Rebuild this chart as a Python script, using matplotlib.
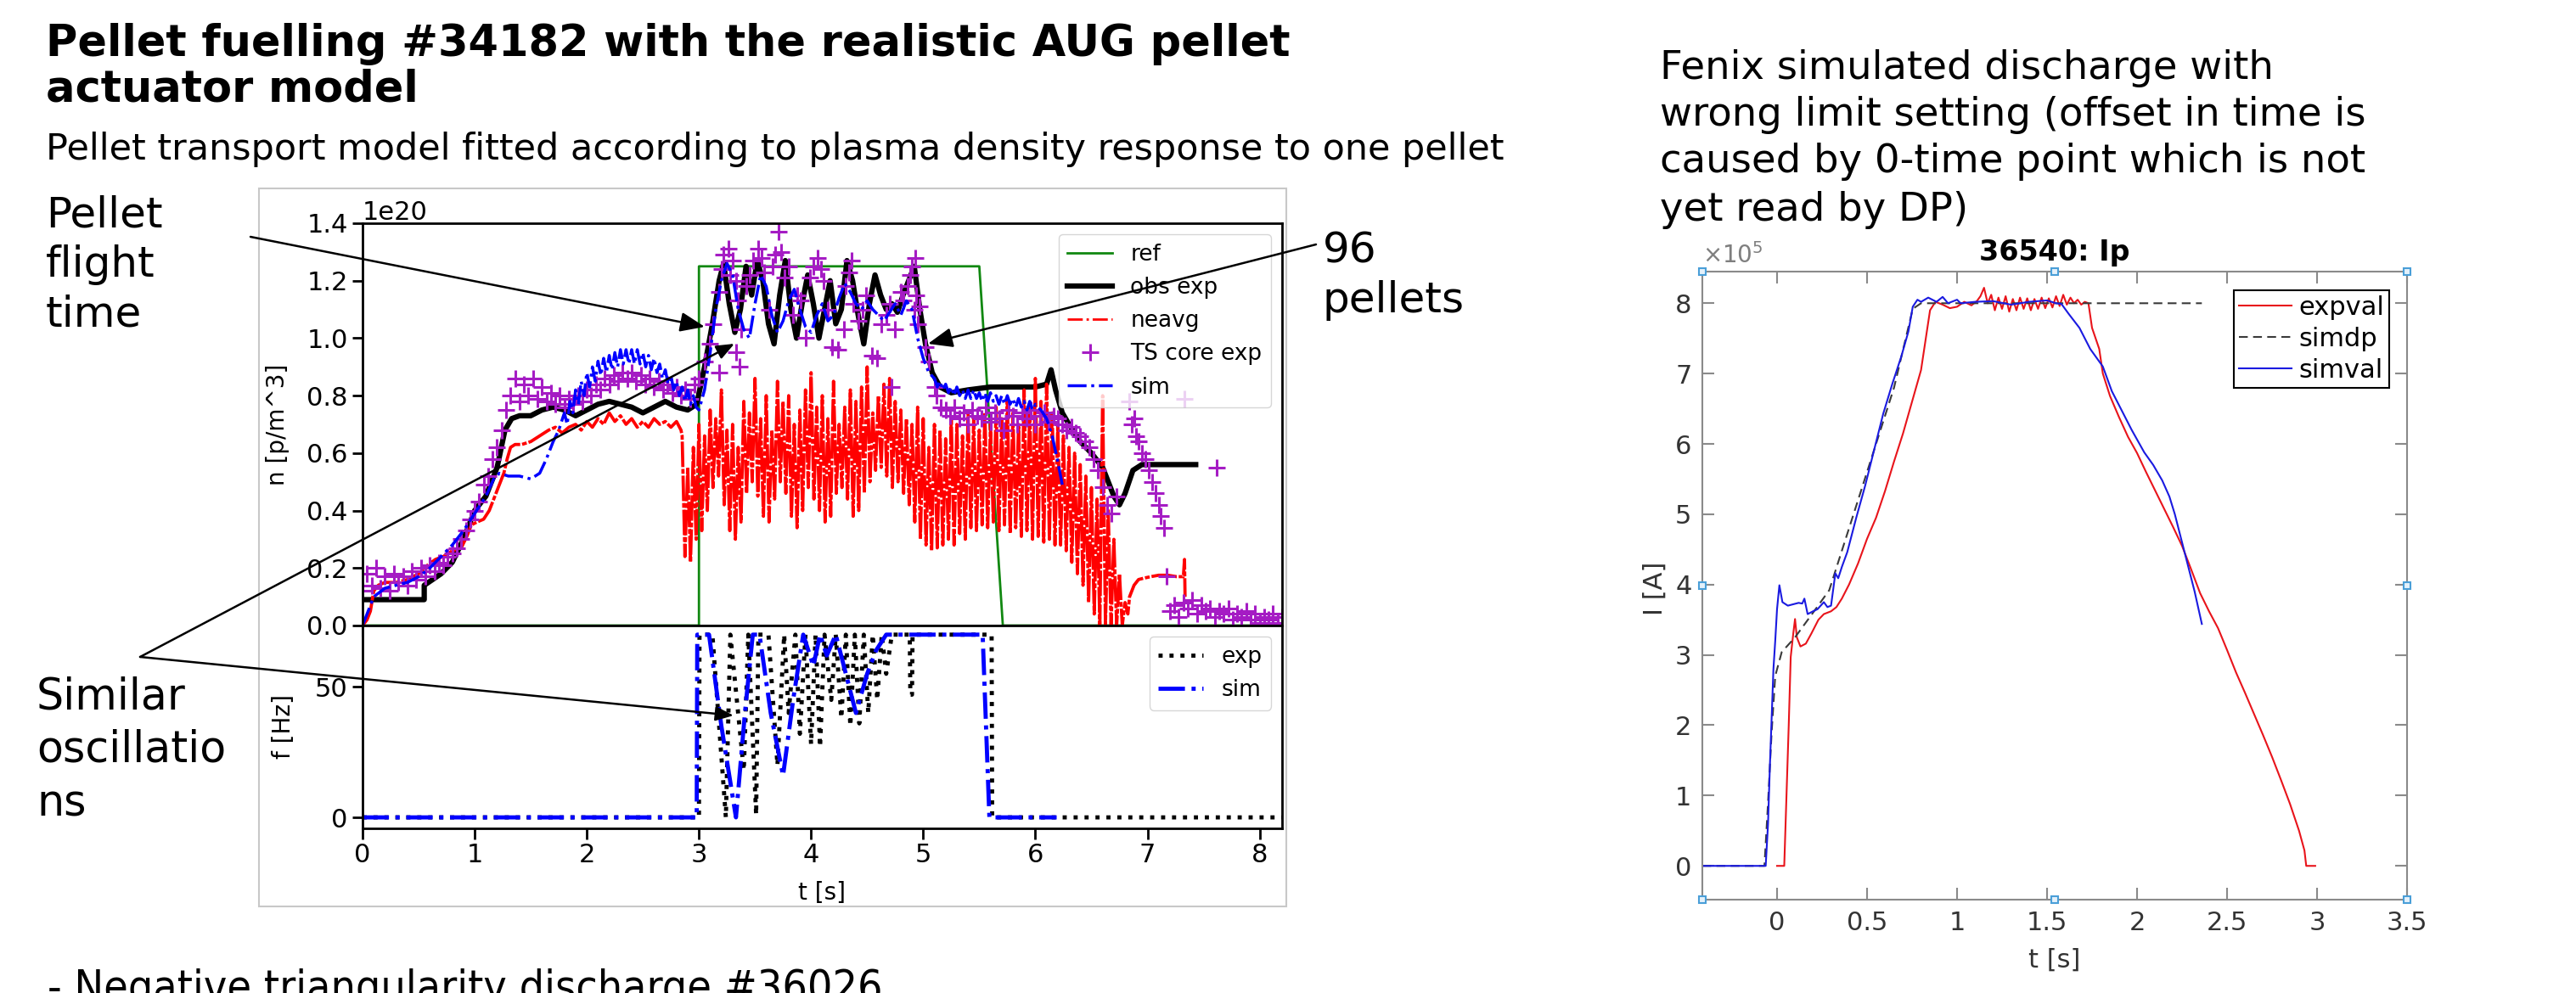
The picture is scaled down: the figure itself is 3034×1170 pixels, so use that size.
import numpy as np
import matplotlib
matplotlib.use("Agg")
import matplotlib.pyplot as plt
from matplotlib.patches import FancyArrowPatch, Rectangle
from matplotlib import font_manager as fm

plt.rcParams['font.family'] = ['DejaVu Sans']
plt.rcParams['mathtext.fontset'] = 'dejavusans'

# ---------------------------------------------------------------- data (left, density)
SC = 1e20
ref_t = [0.0, 3.0, 3.0, 5.5, 5.71, 8.2]
ref_n = [0.0, 0.0, 1.25, 1.25, 0.0, 0.0]

obs_t = [0.00, 0.55, 0.55, 0.70, 0.80, 0.90, 1.00, 1.10, 1.20, 1.27,
         1.33, 1.40, 1.50, 1.60, 1.70, 1.80, 1.90, 2.00, 2.10, 2.20,
         2.30, 2.40, 2.50, 2.60, 2.70, 2.80, 2.90, 2.98, 3.05, 3.12,
         3.18, 3.22, 3.27, 3.32, 3.37, 3.42, 3.47, 3.52, 3.57, 3.62,
         3.67, 3.72, 3.77, 3.82, 3.87, 3.92, 3.97, 4.02, 4.07, 4.12,
         4.17, 4.22, 4.27, 4.32, 4.37, 4.42, 4.47, 4.52, 4.57, 4.62,
         4.67, 4.72, 4.77, 4.82, 4.87, 4.92, 4.97, 5.02, 5.08, 5.15,
         5.25, 5.40, 5.60, 5.80, 6.00, 6.10, 6.14, 6.18, 6.24, 6.30,
         6.40, 6.50, 6.60, 6.70, 6.75, 6.80, 6.87, 6.95, 7.00, 7.43]
obs_n = [0.09, 0.09, 0.14, 0.18, 0.22, 0.30, 0.40, 0.45, 0.55, 0.68,
         0.72, 0.73, 0.73, 0.75, 0.76, 0.75, 0.73, 0.75, 0.77, 0.78,
         0.77, 0.76, 0.74, 0.76, 0.78, 0.76, 0.75, 0.77, 0.90, 1.05,
         1.20, 1.26, 1.12, 1.02, 1.10, 1.25, 1.15, 1.27, 1.20, 1.05,
         0.98, 1.15, 1.27, 1.10, 1.00, 1.12, 1.22, 1.12, 1.00, 1.10,
         1.20, 1.05, 1.10, 1.27, 1.20, 1.08, 0.98, 1.12, 1.22, 1.15,
         1.10, 1.12, 1.09, 1.15, 1.20, 1.25, 1.10, 0.98, 0.88, 0.83,
         0.81, 0.82, 0.83, 0.83, 0.83, 0.84, 0.89, 0.82, 0.74, 0.70,
         0.64, 0.60, 0.55, 0.45, 0.42, 0.46, 0.54, 0.56, 0.56, 0.56]

# neavg: before pellets
nea_pre_t = [0.00, 0.04, 0.07, 0.10, 0.14, 0.20, 0.30, 0.40, 0.50, 0.58,
             0.65, 0.72, 0.80, 0.88, 0.93, 0.97, 1.02, 1.08, 1.13, 1.18,
             1.22, 1.26, 1.29, 1.32, 1.36, 1.42, 1.50, 1.58, 1.66, 1.72,
             1.78, 1.84, 1.90, 1.95, 2.00, 2.05, 2.10, 2.15, 2.20, 2.25,
             2.30, 2.35, 2.40, 2.45, 2.50, 2.55, 2.60, 2.65, 2.70, 2.75,
             2.80, 2.84]
nea_pre_n = [0.00, 0.02, 0.05, 0.12, 0.14, 0.15, 0.15, 0.16, 0.18, 0.21,
             0.23, 0.24, 0.26, 0.27, 0.31, 0.35, 0.36, 0.37, 0.40, 0.45,
             0.49, 0.53, 0.58, 0.62, 0.63, 0.63, 0.64, 0.66, 0.68, 0.69,
             0.67, 0.69, 0.70, 0.68, 0.71, 0.69, 0.72, 0.70, 0.74, 0.71,
             0.73, 0.70, 0.72, 0.69, 0.71, 0.69, 0.72, 0.70, 0.71, 0.69,
             0.71, 0.68]
# neavg during pellet train: sampled every 0.05 s from 2.85 s, upper and lower swings
nea_band_start, nea_band_step = 2.85, 0.05
nea_hi = [0.66, 0.55, 0.62, 0.70, 0.66, 0.75, 0.72, 0.82, 0.68, 0.70,
          0.62, 0.78, 0.74, 0.86, 0.72, 0.80, 0.68, 0.85, 0.78, 0.80,
          0.70, 0.75, 0.82, 0.88, 0.76, 0.80, 0.72, 0.85, 0.70, 0.76,
          0.82, 0.78, 0.83, 0.90, 0.74, 0.80, 0.84, 0.86, 0.78, 0.75,
          0.72, 0.70, 0.76, 0.72, 0.62, 0.70, 0.68, 0.65, 0.72, 0.70,
          0.66, 0.74, 0.72, 0.68, 0.74, 0.70, 0.76, 0.72, 0.78, 0.74,
          0.70, 0.82, 0.76, 0.86, 0.78, 0.84, 0.74, 0.70, 0.66, 0.62,
          0.60, 0.56, 0.52, 0.48, 0.44, 0.80, 0.40, 0.30, 0.18, 0.08]
nea_lo = [0.24, 0.22, 0.30, 0.33, 0.40, 0.48, 0.52, 0.42, 0.33, 0.30,
          0.36, 0.46, 0.50, 0.45, 0.38, 0.36, 0.44, 0.50, 0.46, 0.38,
          0.34, 0.40, 0.48, 0.44, 0.40, 0.36, 0.38, 0.46, 0.48, 0.44,
          0.38, 0.40, 0.46, 0.50, 0.54, 0.55, 0.52, 0.48, 0.50, 0.46,
          0.42, 0.36, 0.30, 0.28, 0.26, 0.27, 0.28, 0.30, 0.28, 0.32,
          0.30, 0.34, 0.33, 0.35, 0.34, 0.36, 0.33, 0.35, 0.32, 0.34,
          0.31, 0.33, 0.30, 0.31, 0.29, 0.30, 0.28, 0.28, 0.26, 0.22,
          0.18, 0.14, 0.08, 0.04, 0.00, 0.00, 0.00, 0.00, 0.00, 0.04]
nea_post_t = [6.84, 6.88, 6.92, 6.97, 7.03, 7.10, 7.18, 7.26, 7.32, 7.33, 7.335]
nea_post_n = [0.10, 0.14, 0.16, 0.165, 0.17, 0.175, 0.175, 0.17, 0.17, 0.23, 0.10]

# Thomson scattering core density
ts_pre_n = [0.12, 0.18, 0.14, 0.20, 0.13, 0.17, 0.12, 0.18, 0.15, 0.17,
            0.14, 0.19, 0.16, 0.20, 0.17, 0.21, 0.19, 0.22, 0.21, 0.24,
            0.25, 0.27, 0.30, 0.33, 0.37, 0.40, 0.43, 0.49, 0.52, 0.58,
            0.62, 0.68, 0.75, 0.80, 0.86, 0.78, 0.84, 0.80, 0.86, 0.79,
            0.83, 0.78, 0.81, 0.77, 0.80, 0.76, 0.79, 0.77, 0.80, 0.78,
            0.82, 0.80, 0.84, 0.82, 0.86, 0.84, 0.87, 0.85, 0.88, 0.86,
            0.88, 0.85, 0.87, 0.84, 0.86, 0.83, 0.85, 0.82, 0.84, 0.81,
            0.83, 0.80, 0.82, 0.79, 0.84, 0.86]
ts_mid_t = [3.05, 3.10, 3.13, 3.18, 3.18, 3.22, 3.26, 3.30, 3.33, 3.33,
            3.35, 3.36, 3.38, 3.42, 3.48, 3.53, 3.58, 3.63, 3.68, 3.71,
            3.76, 3.80, 3.84, 3.91, 3.95, 3.99, 4.06, 4.11, 4.15, 4.19,
            4.24, 4.29, 4.34, 4.38, 4.42, 4.49, 4.54, 4.59, 4.63, 4.67,
            4.72, 4.75, 4.82, 4.86, 4.90, 4.92, 4.95, 4.97, 5.02, 5.05,
            5.10, 3.20, 3.28, 3.45, 3.56, 3.66, 3.73, 3.88, 4.02, 4.09,
            4.31, 4.36, 4.46, 4.70, 4.80, 4.88, 4.93, 4.94]
ts_mid_n = [0.92, 0.98, 1.05, 1.16, 0.88, 1.29, 1.31, 1.27, 1.20, 0.95,
            1.13, 0.90, 1.03, 1.18, 1.27, 1.31, 1.23, 1.10, 1.29, 1.37,
            1.21, 1.25, 1.08, 1.13, 1.00, 1.21, 1.28, 1.20, 1.10, 0.97,
            0.96, 1.03, 1.23, 1.12, 1.06, 1.15, 0.94, 0.93, 1.05, 1.08,
            0.83, 1.03, 1.13, 1.18, 1.25, 1.10, 1.05, 1.11, 0.97, 0.92,
            0.83, 1.24, 1.22, 1.22, 1.28, 1.25, 1.30, 1.15, 1.25, 1.24,
            1.18, 1.27, 1.10, 1.12, 1.16, 1.22, 1.28, 1.15]
ts_post_n = [0.80, 0.76, 0.75, 0.73, 0.76, 0.72, 0.74, 0.70, 0.75, 0.73,
             0.72, 0.76, 0.71, 0.74, 0.72, 0.68, 0.75, 0.73, 0.70, 0.74,
             0.72, 0.75, 0.70, 0.73, 0.74, 0.71, 0.73, 0.72, 0.70, 0.68,
             0.69, 0.67, 0.66, 0.64, 0.62, 0.58, 0.54, 0.48, 0.42, 0.39,
             0.45]
ts_late_t = [6.84, 6.86, 6.88, 6.90, 6.92, 6.95, 6.98, 7.01, 7.04, 7.07,
             7.10, 7.12, 7.15, 7.17, 7.33, 7.62]
ts_late_n = [0.78, 0.70, 0.72, 0.66, 0.64, 0.60, 0.58, 0.54, 0.50, 0.46,
             0.42, 0.38, 0.34, 0.17, 0.79, 0.55]
ts_end_n = [0.05, 0.07, 0.03, 0.08, 0.06, 0.09, 0.04, 0.07, 0.05, 0.06,
            0.03, 0.05, 0.04, 0.06, 0.02, 0.04, 0.03, 0.05, 0.02, 0.04,
            0.01, 0.03, 0.02, 0.04, 0.01, 0.03]

sim_t = [0.00, 0.05, 0.10, 0.20, 0.30, 0.40, 0.50, 0.60, 0.70, 0.80,
         0.90, 1.00, 1.10, 1.17, 1.22, 1.30, 1.40, 1.50, 1.58, 1.64,
         1.70, 1.75, 1.80, 1.825, 1.85, 1.875, 1.90, 1.925, 1.95, 1.975,
         2.00, 2.025, 2.05, 2.075, 2.10, 2.125, 2.15, 2.175, 2.20, 2.225,
         2.25, 2.275, 2.30, 2.325, 2.35, 2.375, 2.40, 2.425, 2.45, 2.475,
         2.50, 2.525, 2.55, 2.575, 2.60, 2.625, 2.65, 2.675, 2.70, 2.725,
         2.75, 2.775, 2.80, 2.825, 2.85, 2.875, 2.90, 2.925, 2.95, 2.975,
         3.00, 3.05, 3.10, 3.15, 3.20, 3.25, 3.30, 3.35, 3.40, 3.45,
         3.50, 3.55, 3.60, 3.65, 3.70, 3.75, 3.80, 3.85, 3.90, 3.95,
         4.00, 4.05, 4.10, 4.15, 4.20, 4.25, 4.30, 4.35, 4.40, 4.45,
         4.50, 4.55, 4.60, 4.65, 4.70, 4.75, 4.80, 4.85, 4.90, 4.95,
         5.00, 5.05, 5.10, 5.125, 5.15, 5.175, 5.20, 5.225, 5.25, 5.275,
         5.30, 5.325, 5.35, 5.375, 5.40, 5.425, 5.45, 5.475, 5.50, 5.525,
         5.55, 5.575, 5.60, 5.625, 5.65, 5.675, 5.70, 5.725, 5.75, 5.775,
         5.80, 5.825, 5.85, 5.875, 5.90, 5.925, 5.95, 5.975, 6.00, 6.05,
         6.10, 6.15, 6.20, 6.24]
sim_n = [0.00, 0.05, 0.10, 0.13, 0.14, 0.15, 0.17, 0.20, 0.24, 0.28,
         0.33, 0.39, 0.45, 0.51, 0.53, 0.52, 0.52, 0.51, 0.53, 0.58,
         0.64, 0.68, 0.74, 0.70, 0.78, 0.74, 0.82, 0.77, 0.85, 0.80,
         0.88, 0.83, 0.90, 0.85, 0.92, 0.87, 0.93, 0.88, 0.94, 0.89,
         0.95, 0.90, 0.96, 0.91, 0.96, 0.91, 0.96, 0.91, 0.96, 0.91,
         0.95, 0.90, 0.94, 0.89, 0.93, 0.88, 0.91, 0.86, 0.89, 0.84,
         0.87, 0.82, 0.85, 0.80, 0.83, 0.78, 0.82, 0.77, 0.80, 0.76,
         0.75, 0.82, 0.95, 1.10, 1.20, 1.26, 1.22, 1.10, 1.03, 1.00,
         1.12, 1.22, 1.18, 1.08, 1.02, 1.06, 1.13, 1.17, 1.10, 1.04,
         1.02, 1.08, 1.12, 1.06, 1.08, 1.14, 1.19, 1.16, 1.12, 1.10,
         1.13, 1.10, 1.08, 1.06, 1.09, 1.12, 1.08, 1.13, 1.10, 1.00,
         0.93, 0.88, 0.86, 0.83, 0.85, 0.82, 0.84, 0.81, 0.83, 0.80,
         0.83, 0.80, 0.82, 0.79, 0.82, 0.79, 0.82, 0.79, 0.81, 0.78,
         0.81, 0.78, 0.81, 0.78, 0.80, 0.77, 0.80, 0.77, 0.80, 0.77,
         0.79, 0.76, 0.79, 0.76, 0.78, 0.75, 0.78, 0.75, 0.77, 0.75,
         0.72, 0.66, 0.57, 0.49]

# ---------------------------------------------------------------- data (left, pellet frequency)
fexp_t = [0.00, 3.00, 3.005, 3.12, 3.24, 3.28, 3.40, 3.44, 3.51, 3.53,
          3.62, 3.70, 3.76, 3.80, 3.86, 3.90, 3.95, 4.00, 4.04, 4.08,
          4.12, 4.18, 4.22, 4.27, 4.31, 4.35, 4.39, 4.43, 4.47, 4.51,
          4.55, 4.59, 4.63, 4.67, 4.72, 4.88, 4.885, 4.90, 4.905, 5.61,
          5.615, 8.20]
fexp_f = [0, 0, 70, 70, 0, 70, 18, 70, 1, 70,
          70, 20, 70, 40, 70, 32, 70, 28, 70, 27,
          70, 45, 70, 38, 70, 35, 70, 36, 70, 40,
          70, 45, 70, 55, 70, 70, 47, 47, 70, 70,
          0, 0]
fsim_t = [0.00, 2.98, 2.985, 3.09, 3.20, 3.33, 3.41, 3.48, 3.54, 3.64,
          3.75, 3.84, 3.93, 4.02, 4.08, 4.14, 4.22, 4.31, 4.40, 4.50,
          4.58, 4.67, 5.53, 5.59, 6.19]
fsim_f = [0, 0, 70, 70, 35, 0, 40, 70, 70, 40,
          16, 45, 70, 58, 70, 62, 70, 55, 40, 55,
          64, 70, 70, 0, 0]

# ---------------------------------------------------------------- data (right, plasma current, 1e5 A)
expval_t = [0.00, 0.04, 0.05, 0.065, 0.076, 0.09, 0.10, 0.11, 0.13, 0.16,
            0.19, 0.23, 0.26, 0.30, 0.33, 0.36, 0.40, 0.45, 0.50, 0.55,
            0.60, 0.65, 0.70, 0.75, 0.80, 0.85, 0.88, 0.92, 0.96, 1.00,
            1.04, 1.08, 1.11, 1.13, 1.15, 1.17, 1.19, 1.21, 1.23, 1.25,
            1.27, 1.29, 1.31, 1.33, 1.35, 1.37, 1.39, 1.41, 1.43, 1.45,
            1.47, 1.49, 1.51, 1.53, 1.55, 1.57, 1.59, 1.61, 1.63, 1.65,
            1.67, 1.69, 1.71, 1.73, 1.75, 1.77, 1.79, 1.81, 1.85, 1.90,
            1.95, 2.00, 2.05, 2.10, 2.15, 2.20, 2.25, 2.30, 2.35, 2.40,
            2.45, 2.50, 2.55, 2.60, 2.65, 2.70, 2.75, 2.80, 2.85, 2.90,
            2.93, 2.94, 2.99]
expval_I = [0.00, 0.00, 0.80, 2.00, 2.97, 3.30, 3.51, 3.25, 3.12, 3.16,
            3.30, 3.50, 3.58, 3.62, 3.68, 3.80, 4.00, 4.30, 4.65, 4.95,
            5.33, 5.75, 6.15, 6.60, 7.05, 7.90, 8.02, 7.98, 7.93, 7.95,
            8.02, 7.97, 8.03, 8.10, 8.22, 8.00, 8.12, 7.90, 8.08, 7.92,
            8.10, 7.88, 8.06, 7.90, 8.08, 7.92, 8.07, 7.90, 8.06, 7.92,
            8.08, 7.93, 8.07, 7.94, 8.10, 7.96, 8.12, 7.98, 8.08, 8.00,
            8.05, 7.98, 8.02, 8.00, 7.65, 7.50, 7.35, 7.00, 6.68, 6.38,
            6.10, 5.87, 5.60, 5.34, 5.08, 4.82, 4.55, 4.22, 3.88, 3.62,
            3.38, 3.07, 2.75, 2.46, 2.16, 1.86, 1.55, 1.22, 0.88, 0.50,
            0.22, 0.00, 0.00]
simdp_t = [-0.415, -0.07, -0.05, -0.03, -0.01, 0.026, 0.10, 0.20, 0.29, 0.35,
           0.45, 0.55, 0.65, 0.754, 0.80, 2.36]
simdp_I = [0.00, 0.00, 0.90, 1.90, 2.70, 3.04, 3.25, 3.60, 3.92, 4.40,
           5.20, 6.00, 6.80, 7.92, 8.00, 8.00]
simval_t = [-0.415, -0.063, -0.05, -0.04, -0.03, -0.02, -0.01, 0.00, 0.013, 0.03,
            0.06, 0.09, 0.12, 0.14, 0.152, 0.17, 0.20, 0.225, 0.26, 0.28,
            0.30, 0.324, 0.34, 0.36, 0.39, 0.44, 0.49, 0.54, 0.59, 0.64,
            0.69, 0.73, 0.754, 0.78, 0.80, 0.84, 0.886, 0.92, 0.95, 1.00,
            1.02, 1.10, 1.20, 1.30, 1.40, 1.50, 1.55, 1.58, 1.62, 1.68,
            1.74, 1.81, 1.86, 1.91, 1.97, 2.04, 2.09, 2.14, 2.18, 2.21,
            2.25, 2.28, 2.32, 2.36]
simval_I = [0.00, 0.00, 0.60, 1.40, 2.10, 2.80, 3.20, 3.65, 3.99, 3.75,
            3.70, 3.72, 3.74, 3.73, 3.80, 3.58, 3.62, 3.65, 3.75, 3.68,
            3.70, 4.16, 4.09, 4.25, 4.46, 4.95, 5.41, 5.92, 6.43, 6.85,
            7.24, 7.60, 7.95, 8.05, 8.02, 8.08, 8.02, 8.09, 8.00, 8.05,
            8.00, 8.02, 8.03, 7.98, 8.02, 8.04, 8.00, 7.99, 7.85, 7.65,
            7.35, 7.10, 6.75, 6.50, 6.20, 5.88, 5.70, 5.48, 5.25, 5.00,
            4.60, 4.30, 3.90, 3.44]

right_xticks = [0, 0.5, 1, 1.5, 2, 2.5, 3, 3.5]
right_xticklabels = ['0', '0.5', '1', '1.5', '2', '2.5', '3', '3.5']

# ---------------------------------------------------------------- assemble series
band_t0 = nea_band_start + nea_band_step * np.arange(len(nea_hi))
band_t = np.empty(2 * len(nea_hi))
band_n = np.empty(2 * len(nea_hi))
band_t[0::2] = band_t0
band_t[1::2] = band_t0 + nea_band_step / 2
band_n[0::2] = nea_hi
band_n[1::2] = nea_lo
nea_t = np.concatenate([nea_pre_t, band_t, nea_post_t])
nea_n = np.concatenate([nea_pre_n, band_n, nea_post_n])

ts_t = np.concatenate([np.linspace(0.0, 3.0, len(ts_pre_n)), ts_mid_t,
                       np.linspace(5.12, 6.72, len(ts_post_n)), ts_late_t,
                       np.linspace(7.2, 8.2, len(ts_end_n))])
ts_n = np.concatenate([ts_pre_n, ts_mid_n, ts_post_n, ts_late_n, ts_end_n])

# ---------------------------------------------------------------- figure
W, H = 3034, 1170
fig = plt.figure(figsize=(W / 100, H / 100), dpi=100)
fig.patch.set_facecolor('white')
renderer = fig.canvas.get_renderer()


def FX(px):
    return px / W


def FY(py):
    return 1 - py / H


def box(l, t, r, b):
    return [FX(l), FY(b), (r - l) / W, (b - t) / H]


def fit_width(t, target_px):
    w = t.get_window_extent(renderer).width
    t.set_fontsize(t.get_fontsize() * target_px / w)
    return t.get_fontsize()


def pick_narrow():
    for f in fm.fontManager.ttflist:
        if 'Liberation Sans Narrow' in f.name and f.style == 'normal' and str(f.weight) in ('400', 'normal', 'regular'):
            return fm.FontProperties(fname=f.fname)
    for f in fm.fontManager.ttflist:
        if (str(f.stretch) in ('condensed', 'semi-condensed') and f.style == 'normal'
                and str(f.weight) in ('400', 'normal', 'regular')
                and 'Mono' not in f.name and 'Serif' not in f.name and 'CJK' not in f.name):
            return fm.FontProperties(fname=f.fname)
    return fm.FontProperties(family='Liberation Sans')


# slide texts
t1 = fig.text(FX(54), FY(66), "Pellet fuelling #34182 with the realistic AUG pellet",
              fontsize=36.5, fontweight='bold', va='baseline')
tsize = fit_width(t1, 1468)
fig.text(FX(54), FY(120), "actuator model", fontsize=tsize, fontweight='bold', va='baseline')
t3 = fig.text(FX(54), FY(188),
              "Pellet transport model fitted according to plasma density response to one pellet",
              fontsize=27.7, va='baseline')
fit_width(t3, 1719)
for txt, yb in [("Pellet", 267), ("flight", 326), ("time", 385)]:
    fig.text(FX(54), FY(yb), txt, fontsize=36, va='baseline')
for txt, yb in [("96", 310), ("pellets", 368)]:
    fig.text(FX(1558), FY(yb), txt, fontsize=36, va='baseline')
for txt, yb in [("Similar", 836), ("oscillatio", 898), ("ns", 962)]:
    fig.text(FX(43), FY(yb), txt, fontsize=36.5, va='baseline')
for txt, yb in [("Fenix simulated discharge with", 93),
                ("wrong limit setting (offset in time is", 148),
                ("caused by 0-time point which is not", 203),
                ("yet read by DP)", 260)]:
    fig.text(FX(1955), FY(yb), txt, fontsize=33.5, va='baseline')
fp = pick_narrow()
fp.set_size(40)
tb = fig.text(FX(56), FY(1180), "- Negative triangularity discharge #36026",
              fontproperties=fp, va='baseline')
bsize = fit_width(tb, 981)
tb.set_y(FY(1143 + 0.72 * bsize * 100 / 72))

# frame of the embedded left figure
fig.add_artist(Rectangle((FX(305), FY(1068)), (1515 - 305) / W, (1068 - 222) / H,
                         transform=fig.transFigure, fill=False, ec='#c8c8c8', lw=1.5, zorder=0))

# ---------------------------------------------------------------- left: density
TL = 22
ax1 = fig.add_axes(box(427, 263, 1510, 737))
ax1.plot(ref_t, np.array(ref_n) * SC, color='#118811', lw=2, label='ref')
ax1.plot(obs_t, np.array(obs_n) * SC, color='black', lw=4.5, label='obs exp')
ax1.plot(nea_t, nea_n * SC, color='red', lw=2.7, ls=(0, (8, 0.6, 1.5, 0.6)))
ax1.plot([], [], color='red', lw=2, ls='-.', label='neavg')
ax1.plot(ts_t, ts_n * SC, ls='none', marker='+', ms=14, mew=2.2, color='#a51cc4',
         label='TS core exp')
ax1.plot(sim_t, np.array(sim_n) * SC, color='blue', lw=2.5, ls='-.', label='sim')
ax1.set_xlim(0, 8.2)
ax1.set_ylim(0, 1.4 * SC)
ax1.set_yticks(np.arange(0, 1.41, 0.2) * SC)
ax1.set_xticks(range(0, 9))
ax1.tick_params(labelbottom=False, direction='out', length=9, width=2, labelsize=TL)
ax1.yaxis.get_offset_text().set_fontsize(TL)
ax1.set_ylabel('n [p/m^3]', fontsize=20)
ax1.yaxis.set_label_coords(-0.079, 0.5)
for s in ax1.spines.values():
    s.set_linewidth(2)
ax1.legend(loc='upper right', fontsize=19, framealpha=0.8, borderaxespad=0.5,
           handlelength=2.0, labelspacing=0.5)

# ---------------------------------------------------------------- left: frequency
ax2 = fig.add_axes(box(427, 737, 1510, 976))
ax2.plot(fexp_t, fexp_f, color='black', lw=3.5, ls=':', label='exp')
ax2.plot(fsim_t, fsim_f, color='blue', lw=3.5, ls='-.', label='sim')
ax2.set_xlim(0, 8.2)
ax2.set_ylim(-4.2, 73.5)
ax2.set_yticks([0, 50])
ax2.set_xticks(range(0, 9))
ax2.tick_params(direction='out', length=9, width=2, labelsize=TL)
ax2.set_xlabel('t [s]', fontsize=20)
ax2.set_ylabel('f [Hz]', fontsize=20)
ax2.yaxis.set_label_coords(-0.073, 0.5)
ax2.xaxis.set_label_coords(0.5, -0.26)
for s in ax2.spines.values():
    s.set_linewidth(2)
ax2.legend(loc='upper right', fontsize=19, framealpha=0.8, borderaxespad=0.5,
           handlelength=2.0, labelspacing=0.5)

# ---------------------------------------------------------------- right: plasma current
ax3 = fig.add_axes(box(2005, 320, 2835, 1060))
ax3.plot(expval_t, expval_I, color='#e8141b', lw=1.5, label='expval')
ax3.plot(simdp_t, simdp_I, color='#3a3a3a', lw=1.5, ls=(0, (5, 3)), label='simdp')
ax3.plot(simval_t, simval_I, color='#1a1ae0', lw=1.5, label='simval')
ax3.set_xlim(-0.415, 3.5)
ax3.set_ylim(-0.48, 8.45)
ax3.set_xticks(right_xticks)
ax3.set_xticklabels(right_xticklabels)
ax3.set_yticks(range(0, 9))
ax3.tick_params(direction='in', top=True, right=True, length=10, width=1.5,
                color='#8a8a8a', labelcolor='#333333', labelsize=22, pad=9)
for s in ax3.spines.values():
    s.set_color('#8a8a8a')
    s.set_linewidth(1.5)
ax3.set_xlabel('t [s]', fontsize=22, color='#333333')
ax3.set_ylabel('I [A]', fontsize=22, color='#333333')
ax3.xaxis.set_label_coords(0.5, -0.077)
ax3.yaxis.set_label_coords(-0.05, 0.496)
ax3.text(0.5, 1.031, '36540: Ip', transform=ax3.transAxes, ha='center', va='center',
         fontsize=24, fontweight='bold')
ax3.text(0.0, 1.026, r'$\times10^{5}$', transform=ax3.transAxes, ha='left', va='center',
         fontsize=20, color='#7f7f7f')
leg3 = ax3.legend(loc='upper right', bbox_to_anchor=(FX(2814), FY(342)),
                  bbox_transform=fig.transFigure, borderaxespad=0, fancybox=False,
                  edgecolor='black', framealpha=1, fontsize=22, handlelength=2.05,
                  handletextpad=0.25, borderpad=0.2, labelspacing=0.26)
leg3.get_frame().set_linewidth(1.5)
# selection handles
hx = [0, 0.5, 1, 0, 1, 0, 0.5, 1]
hy = [1, 1, 1, 0.5, 0.5, 0, 0, 0]
ax3.plot(hx, hy, ls='none', marker='s', ms=6, mfc='#e4f1fb', mec='#4a9fd8', mew=1.5,
         transform=ax3.transAxes, clip_on=False, zorder=10)

# ---------------------------------------------------------------- annotation arrows


def arrow(p0, p1, hl=0.8, hw=0.32, ms=22):
    a = FancyArrowPatch((FX(p0[0]), FY(p0[1])), (FX(p1[0]), FY(p1[1])),
                        transform=fig.transFigure,
                        arrowstyle=f'-|>,head_length={hl},head_width={hw}',
                        mutation_scale=ms, lw=1.8, color='black',
                        shrinkA=0, shrinkB=0, zorder=20)
    fig.add_artist(a)


arrow((295, 279), (830, 385))
arrow((1550, 288), (1093, 405))
arrow((165, 774), (865, 405), ms=16)
arrow((165, 774), (864, 843), ms=16)

fig.savefig('out.png', dpi=100, facecolor='white')
